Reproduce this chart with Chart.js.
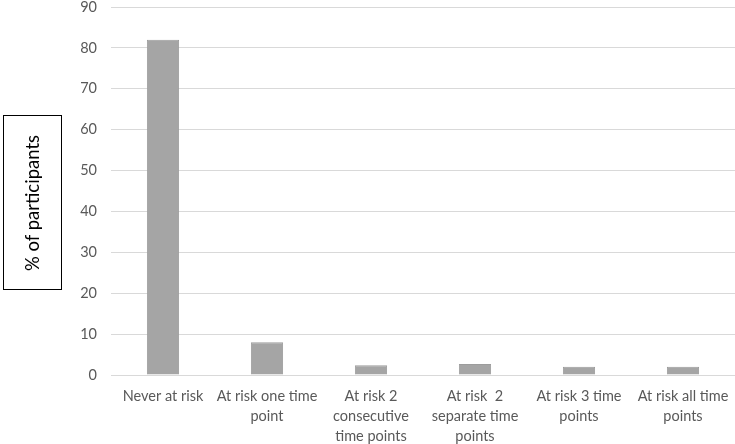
<!DOCTYPE html>
<html>
<head>
<meta charset="utf-8">
<script src="https://cdn.jsdelivr.net/npm/chart.js@4"></script>
<style>
    html, body { margin: 0; padding: 0; background: #fff; }
    #wrap { position: relative; width: 735px; height: 444px; }
    #y-title {
        position: absolute; left: 3px; top: 115px; width: 59px; height: 175px;
        border: 1px solid #000; box-sizing: border-box;
        display: flex; align-items: center; justify-content: center;
    }
    #y-title span {
        transform: rotate(-90deg); white-space: nowrap;
        font: 18.5px Lato, sans-serif; color: #000;
    }
</style>
</head>
<body>
<div id="wrap">
    <canvas id="chart" width="735" height="444"></canvas>
    <div id="y-title"><span>% of participants</span></div>
</div>
<script>
// категории по оси X (многострочные подписи)
const categories = [
    'Never at risk',
    ['At risk one time', 'point'],
    ['At risk 2', 'consecutive', 'time points'],
    ['At risk  2', 'separate time', 'points'],
    ['At risk 3 time', 'points'],
    ['At risk all time', 'points']
];
// % участников
const participants = [82, 8, 2.4, 2.7, 2.0, 2.0];
const yTicks = [0, 10, 20, 30, 40, 50, 60, 70, 80, 90];

const onDOMLoaded = () => {
    const ctx = document.getElementById('chart').getContext('2d');

    new Chart(ctx, {
        type: 'bar',
        data: {
            labels: categories,
            datasets: [{
                data: participants,
                backgroundColor: '#a5a5a5',
                borderColor: '#9c9c9c',
                borderWidth: 1,
                categoryPercentage: 0.31,
                barPercentage: 1
            }]
        },
        options: {
            responsive: false,
            animation: false,
            layout: { padding: { left: 70, right: 0, top: 7, bottom: 0 } },
            plugins: { legend: { display: false }, tooltip: { enabled: false } },
            scales: {
                x: {
                    grid: { display: false },
                    border: { display: false },
                    ticks: {
                        color: '#595959',
                        font: { family: 'Lato', size: 14.5, lineHeight: 1.35 },
                        maxRotation: 0,
                        autoSkip: false,
                        padding: 4
                    },
                    afterFit: (scale) => {
                        scale.height = 69;
                        scale.paddingLeft = scale.paddingRight = 0;
                    }
                },
                y: {
                    min: 0,
                    max: 90,
                    afterBuildTicks: (scale) => { scale.ticks = yTicks.map(v => ({ value: v })); },
                    grid: { color: '#d9d9d9', lineWidth: 1, drawTicks: false },
                    border: { display: false },
                    ticks: {
                        color: '#595959',
                        font: { family: 'Lato', size: 14.5 },
                        padding: 14
                    },
                    afterFit: (scale) => {
                        scale.width = 41;
                        scale.paddingTop = scale.paddingBottom = 0;
                    }
                }
            }
        }
    });
};

document.addEventListener('DOMContentLoaded', onDOMLoaded);
</script>
</body>
</html>
